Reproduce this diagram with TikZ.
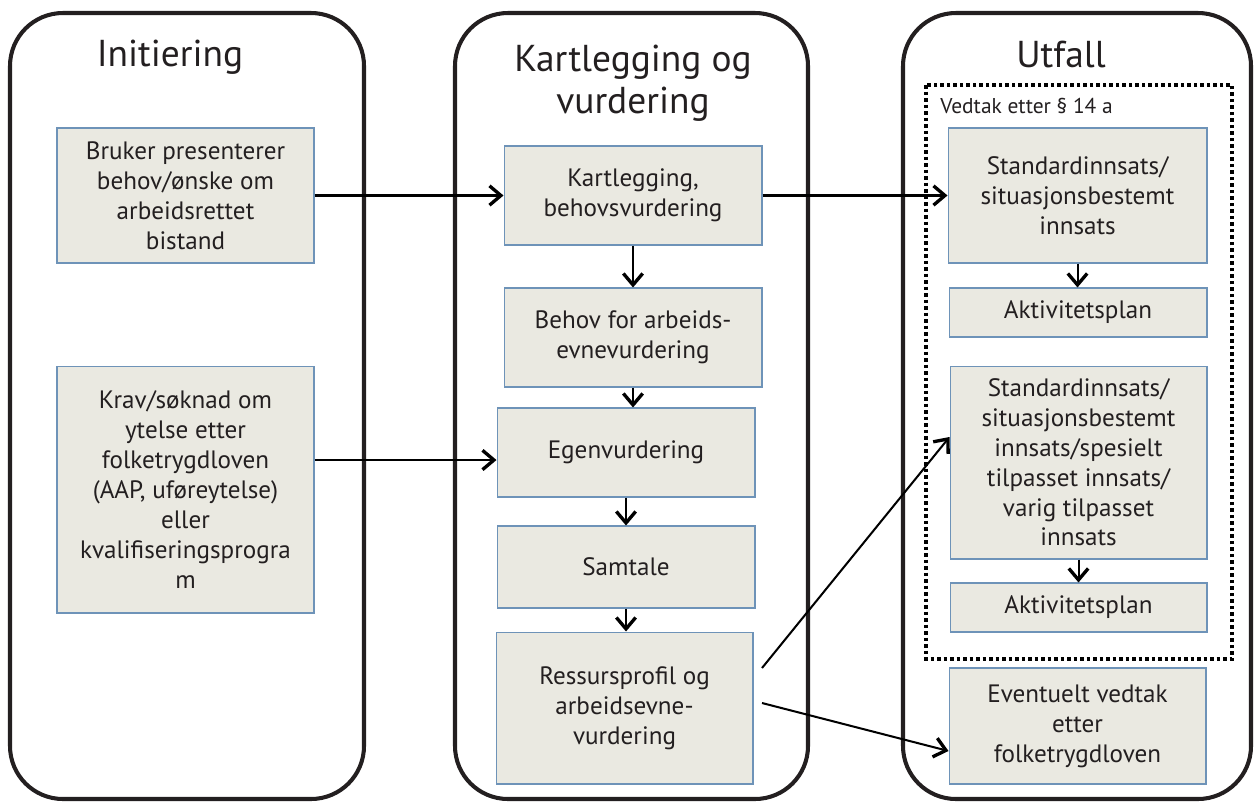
\documentclass[tikz,border=0pt]{standalone}
\usepackage{fontspec}
\setmainfont{PT Sans}
\usetikzlibrary{arrows.meta}
\definecolor{ink}{HTML}{231F20}
\definecolor{boxfill}{HTML}{EAE9E1}
\definecolor{boxline}{HTML}{6E93B8}
\tikzset{
  lane/.style={draw=ink, line width=2.3pt, rounded corners=1.06cm},
  stepbox/.style={draw=boxline, fill=boxfill, line width=0.6pt, inner sep=0pt,
    align=center, text=ink, font=\fontsize{14.3}{17}\selectfont},
  title/.style={align=center, text=ink, font=\fontsize{21.3}{23.8}\selectfont, inner sep=0pt},
  flow/.style={draw=black, line width=1.15pt,
    -{Straight Barb[length=6.5pt,width=11pt,line width=1.9pt]}},
  dotbox/.style={draw=black, line width=2pt, dash pattern=on 2pt off 1.7pt}
}
\begin{document}
\begin{tikzpicture}[x=0.02cm,y=-0.02cm]
\useasboundingbox (0,0) rectangle (1254,802);
% lanes
\draw[lane] (10,13) rectangle (364,799);
\draw[lane] (455,13) rectangle (808,799);
\draw[lane] (903,13) rectangle (1251,799);
% dotted frame
\draw[dotbox] (926,85) rectangle (1232,659);
% titles
\node[title, anchor=base] (t1) at (170,66) {Initiering};
\node[title, anchor=base] (t2) at (633,113) {Kartlegging og\\vurdering};
\node[title, anchor=base] (t3) at (1061,67) {Utfall};
\node[anchor=base west, inner sep=0pt, text=ink, font=\fontsize{12.2}{14}\selectfont] (vd) at (940,113) {Vedtak etter § 14 a};
% boxes
\node[stepbox, minimum width=5.14cm, minimum height=2.7cm] (b1) at (185.5,195.5) {Bruker presenterer\\behov/ønske om\\arbeidsrettet\\bistand};
\node[stepbox, minimum width=5.14cm, minimum height=4.94cm] (b2) at (185.5,489.5) {Krav/søknad om\\ytelse etter\\folketrygdloven\\(AAP, uføreytelse)\\eller\\kvalifiseringsprogra\\m};
\node[stepbox, minimum width=5.16cm, minimum height=1.98cm] (k1) at (633,195.5) {Kartlegging,\\behovsvurdering};
\node[stepbox, minimum width=5.16cm, minimum height=1.98cm] (k2) at (633,337.5) {Behov for arbeids-\\evnevurdering};
\node[stepbox, minimum width=5.16cm, minimum height=1.78cm] (k3) at (626,452.5) {Egenvurdering};
\node[stepbox, minimum width=5.16cm, minimum height=1.64cm] (k4) at (626,567) {Samtale};
\node[stepbox, minimum width=5.14cm, minimum height=3.04cm] (k5) at (624.5,708) {Ressursprofil og\\arbeidsevne-\\vurdering};
\node[stepbox, minimum width=5.18cm, minimum height=2.7cm] (u1) at (1077.5,195.5) {Standardinnsats/\\situasjonsbestemt\\innsats};
\node[stepbox, minimum width=5.16cm, minimum height=0.98cm] (u2) at (1078,312.5) {Aktivitetsplan};
\node[stepbox, minimum width=5.14cm, minimum height=3.86cm] (u3) at (1078.5,462.5) {Standardinnsats/\\situasjonsbestemt\\innsats/spesielt\\tilpasset innsats/\\varig tilpasset\\innsats};
\node[stepbox, minimum width=5.14cm, minimum height=0.98cm] (u4) at (1078.5,607.5) {Aktivitetsplan};
\node[stepbox, minimum width=5.14cm, minimum height=2.32cm] (u5) at (1077.5,726) {Eventuelt vedtak\\etter\\folketrygdloven};
% connectors
\draw[flow] (b1.east) -- (k1.west);
\draw[flow] (k1.east) -- (u1.west);
\draw[flow] (b2.east |- 0,460) -- (k3.west |- 0,460);
\draw[flow] (k1.south) -- (k2.north);
\draw[flow] (k2.south) -- (k2.south |- k3.north);
\draw[flow] (k3.south) -- (k4.north);
\draw[flow] (k4.south) -- (k4.south |- k5.north);
\draw[flow] (u1.south) -- (u1.south |- u2.north);
\draw[flow] (u3.south) -- (u3.south |- u4.north);
\coordinate (d1) at (762,668);
\coordinate (d2) at (762,703);
\draw[flow] (d1) -- (u3.west |- 0,437);
\draw[flow] (d2) -- (u5.west |- 0,751);
\end{tikzpicture}
\end{document}
